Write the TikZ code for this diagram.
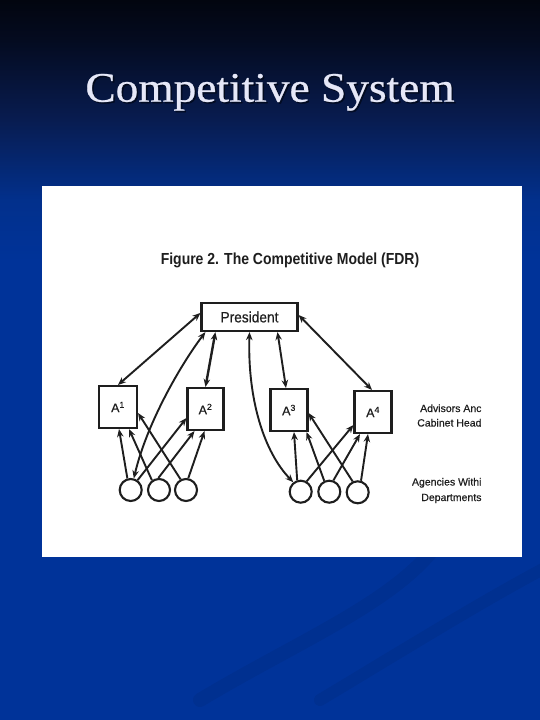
\documentclass[tikz,border=0pt]{standalone}
\usepackage{fontspec}
\usepackage{graphicx}
\setmainfont{Liberation Serif}
\newfontfamily\titlef[FakeBold=0.6]{Liberation Serif}
\newfontfamily\arialf{Liberation Sans}
\newfontfamily\arialm[FakeBold=0.5]{Liberation Sans}
\usetikzlibrary{arrows.meta,calc}
\definecolor{bgtop}{HTML}{02050F}
\definecolor{bgq}{HTML}{040B20}
\definecolor{bgmid}{HTML}{081C50}
\definecolor{bglow}{HTML}{02308C}
\definecolor{bgblue}{HTML}{003399}
\definecolor{ink}{HTML}{1E1E1E}
\definecolor{titlec}{HTML}{E6E8F8}
\pgfdeclareverticalshading{bgsh}{100bp}{color(0bp)=(bgblue); color(25bp)=(bgblue); color(56.9bp)=(bgblue); color(61.1bp)=(bglow); color(66.7bp)=(bgmid); color(72.2bp)=(bgq); color(75bp)=(bgtop); color(100bp)=(bgtop)}
\begin{document}
\begin{tikzpicture}[x=1pt,y=-1pt,
  conn/.style={draw=ink,line width=1.9pt},
  tip/.style={-{Stealth[length=8pt,width=6.5pt]}},
  both/.style={{Stealth[length=8pt,width=6.5pt]}-{Stealth[length=8pt,width=6.5pt]}},
  abox/.style={draw=ink,line width=2.1pt,fill=white,minimum width=37pt,minimum height=42pt,inner sep=0pt,font=\arialm\fontsize{12.5}{12}\selectfont,text=ink},
  agency/.style={circle,draw=ink,line width=2.1pt,minimum size=22pt,inner sep=0pt},
  side/.style={font=\arialm\fontsize{10.5}{12}\selectfont,text=ink,anchor=base east}]
\useasboundingbox (0,0) rectangle (540,720);
% background
\shade[shading=bgsh] (0,0) rectangle (540,720);
\draw[black,opacity=0.06,line width=14pt,line cap=round] (200,700) .. controls (300,640) and (400,600) .. (440,540);
\draw[black,opacity=0.06,line width=12pt,line cap=round] (320,700) .. controls (420,640) and (500,590) .. (570,555);
% panel
\fill[white] (41.7,185.7) rectangle (521.7,556.7);
% title
\node[text=black,opacity=0.45,anchor=base,font=\titlef\fontsize{42}{46}\selectfont] (titleshadow) at (271.5,103.2) {\scalebox{1.08}[1]{Competitive System}};
\node[text=titlec,anchor=base,font=\titlef\fontsize{42}{46}\selectfont] (title) at (270,101.7) {\scalebox{1.08}[1]{Competitive System}};
% figure heading
\node[anchor=base,text=ink,font=\arialf\bfseries\fontsize{16}{18}\selectfont] (fig) at (290,264) {\scalebox{0.874}[1]{Figure 2. The Competitive Model (FDR)}};
% nodes
\node[draw=ink,line width=2.2pt,fill=white,minimum width=96pt,minimum height=28pt,inner sep=0pt,font=\arialm\fontsize{15}{15}\selectfont,text=ink] (P) at (249.5,317) {\scalebox{0.915}[1]{President}};
\node[abox,minimum width=38pt] (A1) at (118,407) {A\textsuperscript{1}};
\node[abox,minimum width=36pt] (A2) at (205.5,409) {A\textsuperscript{2}};
\node[abox] (A3) at (289,410) {A\textsuperscript{3}};
\node[abox] (A4) at (373,412) {A\textsuperscript{4}};
\node[agency] (c1) at (130.7,490) {};
\node[agency] (c2) at (159,490) {};
\node[agency] (c3) at (186,490) {};
\node[agency] (c4) at (300.7,491.7) {};
\node[agency] (c5) at (329.3,491.7) {};
\node[agency] (c6) at (357.7,492.3) {};
% side labels
\node[side] (l1) at (485,412) {Advisors Anc};
\node[side] (l2) at (485,426.5) {Cabinet Head};
\node[side] (l3) at (485,485.5) {Agencies Withi};
\node[side] (l4) at (485,501) {Departments};
% upper connectors
\draw[conn,both] ([yshift=4pt]P.west) -- (A1.north);
\draw[conn,both] (c1.75) .. controls +(13,-55) and +(-25,33) .. ([xshift=5pt]P.south west);
\draw[conn,both,line width=2.4pt] ([xshift=15pt]P.south west) -- (A2.north);
\draw[conn,both] (P.south) .. controls +(-2,68) and +(-29,-30) .. (c4.128);
\draw[conn,both] ([xshift=28pt]P.south) -- ([xshift=-3pt]A3.north);
\draw[conn,both] ([yshift=2pt]P.east) -- ([xshift=-1pt]A4.north);
% lower left
\draw[conn,tip] (c1.106) -- ([xshift=1pt]A1.south);
\draw[conn,tip] (c2.126) -- ([xshift=11pt]A1.south);
\draw[conn,tip] (c3.117) -- ([yshift=-6pt]A1.east);
\draw[conn,tip] (c1.55) -- ([yshift=-9pt]A2.west);
\draw[conn,tip] (c2.93) -- ([xshift=-11pt]A2.south);
\draw[conn,tip] (c3.79) -- ([xshift=-1pt]A2.south);
% lower right
\draw[conn,tip] (c4.107) -- ([xshift=5pt]A3.south);
\draw[conn,tip] (c5.115) -- ([xshift=-2pt]A3.south east);
\draw[conn,tip] (c6.115) -- ([yshift=-3pt]A3.east);
\draw[conn,tip] (c4.60) -- ([yshift=-13pt]A4.west);
\draw[conn,tip] (c5.70) -- ([xshift=-13pt]A4.south);
\draw[conn,tip] (c6.74) -- ([xshift=-5pt]A4.south);
\end{tikzpicture}
\end{document}
